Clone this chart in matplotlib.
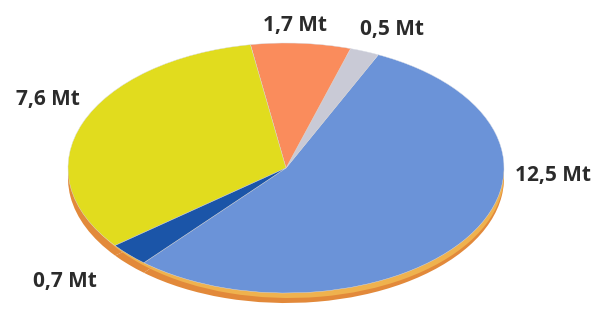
import matplotlib.pyplot as plt

# tonnages per slice, in drawing order (counter-clockwise)
labels = ['12,5 Mt', '0,5 Mt', '1,7 Mt', '7,6 Mt', '0,7 Mt']
values = [12.5, 0.5, 1.7, 7.6, 0.7]
colors = ['#6b93d8', '#c9cad6', '#fa8c5c', '#e1dc1e', '#1b55a8']

# label centres in pixels of the 603x310 picture
label_px = [(553, 176), (392, 30), (295, 25), (48, 100), (65, 282)]

W, H = 603, 310
cx, cy = 286, 168      # centre of the top face
a, b = 218, 125        # half axes of the ellipse

fig = plt.figure(figsize=(W / 100, H / 100), dpi=100)
ax = fig.add_axes([0, 0, 1, 1])

#the rim: same pie shifted down, all orange
ax.pie(values, colors=['#e2893a'] * len(values), startangle=229.3,
       center=(0, -0.08), wedgeprops=dict(linewidth=0))
ax.pie(values, colors=['#efb24e'] * len(values), startangle=229.3,
       center=(0.015, -0.055), radius=0.985, wedgeprops=dict(linewidth=0))

#top face
ax.pie(values, colors=colors, startangle=229.3, counterclock=True,
       wedgeprops=dict(linewidth=0.3, edgecolor='#d8dce6'))

for txt, (px, py) in zip(labels, label_px):
    ax.text((px - cx) / a, (cy - py) / b, txt, ha='center', va='center',
            fontsize=15, fontweight='bold', color='#2b2b2b',
            family='Open Sans')

ax.set_aspect('auto')
ax.set_xlim(-cx / a, (W - cx) / a)
ax.set_ylim(-(H - cy) / b, cy / b)
ax.axis('off')

fig.savefig('out.png', dpi=100)
